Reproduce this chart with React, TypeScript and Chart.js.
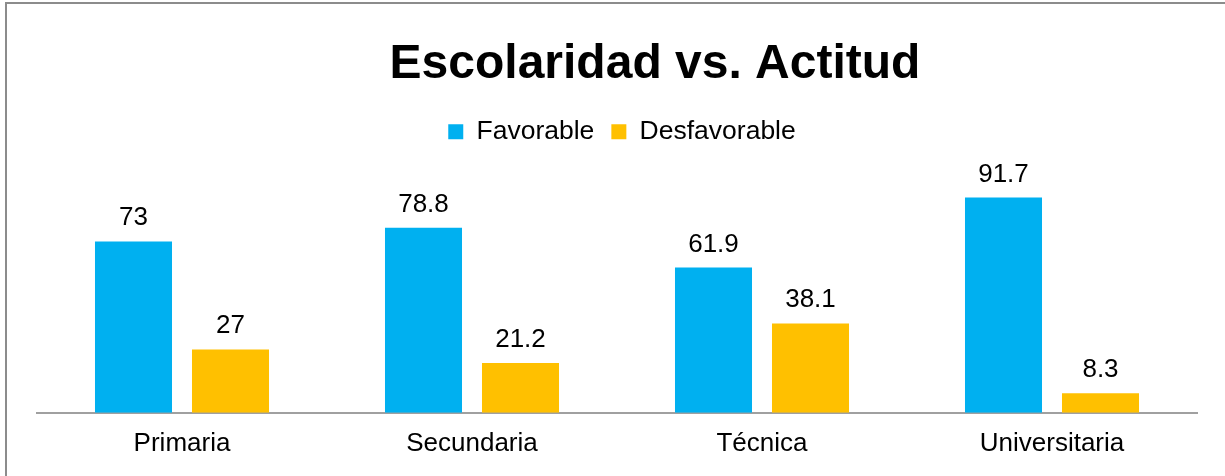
import React, { useEffect, useRef } from "react";
import { Chart, registerables } from "chart.js";

Chart.register(...registerables);

const categories = ["Primaria", "Secundaria", "Técnica", "Universitaria"];
const favorable = [73, 78.8, 61.9, 91.7];
const desfavorable = [27, 21.2, 38.1, 8.3];
const seriesNames = ["Favorable", "Desfavorable"];
const titleText = "Escolaridad vs. Actitud";

const FONT = "'Liberation Sans', Arial, sans-serif";

const borderPlugin = {
  id: "frameBorder",
  beforeDraw(chart: any) {
    const ctx = chart.ctx;
    ctx.save();
    ctx.fillStyle = "#ffffff";
    ctx.fillRect(0, 0, chart.width, chart.height);
    ctx.strokeStyle = "#8c8c8c";
    ctx.lineWidth = 2;
    ctx.strokeRect(6, 3, chart.width + 100, chart.height + 100);
    ctx.restore();
  },
};

const legendGap = {
  id: "legendGap",
  beforeInit(chart: any) {
    const legend = chart.legend;
    if (!legend) return;
    const origFit = legend.fit;
    legend.fit = function () {
      origFit.call(this);
      this.height += 23;
    };
  },
  afterLayout(chart: any) {
    const t = chart.titleBlock;
    if (t) {
      t.left += 38;
      t.right += 38;
    }
    const l = chart.legend;
    if (l) {
      l.left += 5;
      l.right += 5;
    }
  },
};

const valueLabels = {
  id: "valueLabels",
  afterDatasetsDraw(chart: any) {
    const ctx = chart.ctx;
    ctx.save();
    ctx.font = `26px ${FONT}`;
    ctx.fillStyle = "#000000";
    ctx.textAlign = "center";
    ctx.textBaseline = "alphabetic";
    chart.data.datasets.forEach((ds: any, i: number) => {
      const meta = chart.getDatasetMeta(i);
      meta.data.forEach((bar: any, j: number) => {
        ctx.fillText(String(ds.data[j]), bar.x, bar.y - 16);
      });
    });
    ctx.restore();
  },
};

export default function App() {
  const ref = useRef<HTMLCanvasElement | null>(null);
  useEffect(() => {
    if (!ref.current) return;
    const chart = new Chart(ref.current, {
      type: "bar",
      data: {
        labels: categories,
        datasets: [
          {
            label: seriesNames[0],
            data: favorable,
            backgroundColor: "#00B0F0",
            barPercentage: 0.794,
            categoryPercentage: 0.669,
          },
          {
            label: seriesNames[1],
            data: desfavorable,
            backgroundColor: "#FFC000",
            barPercentage: 0.794,
            categoryPercentage: 0.669,
          },
        ],
      },
      options: {
        responsive: false,
        animation: false,
        layout: { padding: { left: 37, right: 28, top: 0, bottom: 10 } },
        plugins: {
          title: {
            display: true,
            text: titleText,
            color: "#000000",
            font: { family: FONT, size: 48, weight: "bold" },
            padding: { top: 36, bottom: 8 },
          },
          legend: {
            display: true,
            position: "top",
            labels: {
              boxWidth: 15,
              boxHeight: 15,
              padding: 17,
              color: "#000000",
              font: { family: FONT, size: 26.5 },
            },
          },
          tooltip: { enabled: false },
        },
        scales: {
          x: {
            grid: { display: false },
            border: { display: true, color: "#a0a0a0", width: 2 },
            ticks: {
              color: "#000000",
              padding: 7,
              font: { family: FONT, size: 26 },
            },
          },
          y: {
            display: false,
            min: 0,
            max: 100,
          },
        },
      },
      plugins: [borderPlugin, legendGap, valueLabels],
    });
    return () => chart.destroy();
  }, []);
  return (
    <div style={{ position: "fixed", left: 0, top: 0, width: 1225, height: 476 }}>
      <canvas ref={ref} width={1225} height={476} style={{ width: 1225, height: 476, display: "block" }} />
    </div>
  );
}
